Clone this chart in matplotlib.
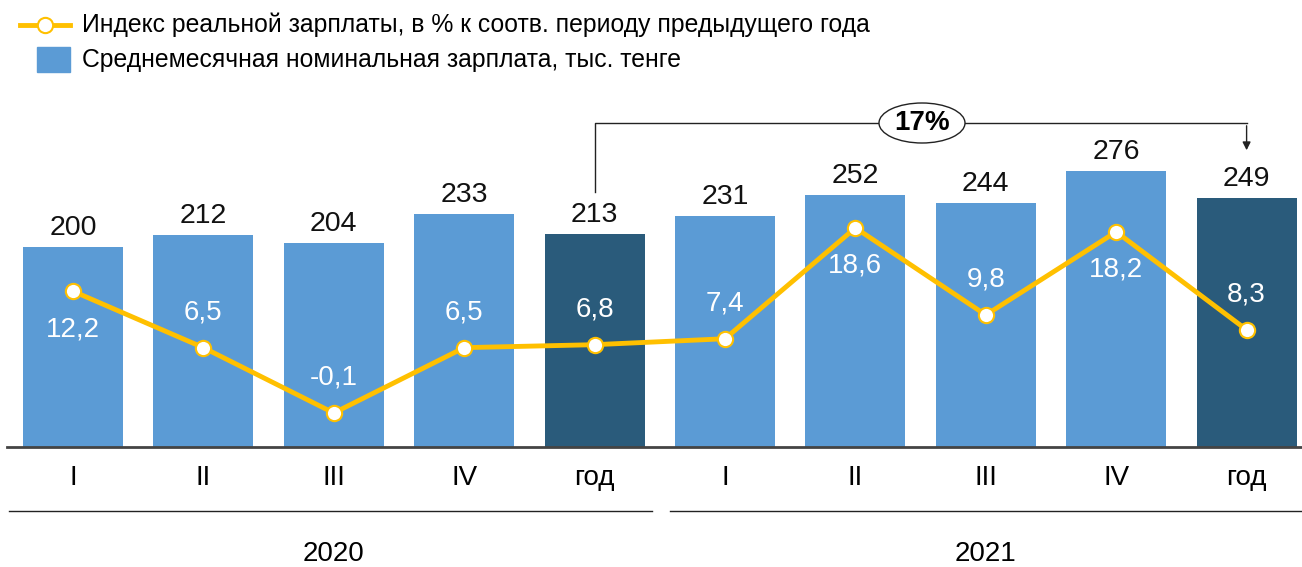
import matplotlib
matplotlib.use("Agg")
import matplotlib.pyplot as plt
from matplotlib.patches import Ellipse
from matplotlib.lines import Line2D

plt.rcParams['font.family'] = ['Liberation Sans', 'DejaVu Sans']

categories = ["I", "II", "III", "IV", "год", "I", "II", "III", "IV", "год"]
years = ["2020", "2021"]
wages = [200, 212, 204, 233, 213, 231, 252, 244, 276, 249]
real_index = [12.2, 6.5, -0.1, 6.5, 6.8, 7.4, 18.6, 9.8, 18.2, 8.3]
index_label_pos = ["below", "above", "above", "above", "above", "above", "below", "above", "below", "above"]
growth_label = "17%"
legend_line = "Индекс реальной зарплаты, в % к соотв. периоду предыдущего года"
legend_bar = "Среднемесячная номинальная зарплата, тыс. тенге"

W, H = 1302, 567
fig = plt.figure(figsize=(W / 100, H / 100), dpi=100)

# axes in pixel layout
x0_px, x1_px = 7, 1302
ytop_px, ybase_px = 90, 447
ax = fig.add_axes([x0_px / W, (H - ybase_px) / H, (x1_px - x0_px) / W, (ybase_px - ytop_px) / H])
step = 130.4
c0 = 73
ax.set_xlim((x0_px - c0) / step, (x1_px - c0) / step)
ax.set_ylim(0, ybase_px - ytop_px)

light = "#5B9BD5"
dark = "#2A5B7B"
colors = [dark if c == "год" else light for c in categories]
xs = list(range(len(categories)))
ax.bar(xs, wages, width=100 / step, color=colors, zorder=2)
for x, v in zip(xs, wages):
    ax.text(x, v + 6, str(v), ha="center", va="bottom", fontsize=20.5, color="#111111")

for s in ["top", "right", "left"]:
    ax.spines[s].set_visible(False)
ax.spines["bottom"].set_color("#444444")
ax.spines["bottom"].set_linewidth(2)
ax.set_yticks([])
ax.set_xticks(xs)
ax.set_xticklabels(categories, fontsize=20)
ax.tick_params(axis="x", length=0, pad=13)

# secondary axis for index
ax2 = ax.twinx()
ppu = 9.9
zero_px = 412
ax2.set_ylim((zero_px - ybase_px) / ppu, (zero_px - ytop_px) / ppu)
ax2.axis("off")
ax2.plot(xs, real_index, color="#FFC000", lw=3.5, zorder=3,
         marker="o", markersize=11, markerfacecolor="white", markeredgecolor="#FFC000", markeredgewidth=1.5)
for x, v, p in zip(xs, real_index, index_label_pos):
    lbl = f"{v:.1f}".replace(".", ",")
    dy = -38 if p == "below" else 35
    ax2.annotate(lbl, (x, v), xytext=(0, dy), textcoords="offset pixels",
                 ha="center", va="center", fontsize=20, color="white", zorder=4)

# 17% bracket (data coords of bar axis)
ytop_bracket = ybase_px - 123
ax.plot([4, 4, 9], [wages[4] + 42, ytop_bracket, ytop_bracket], color="#222222", lw=1, clip_on=False, zorder=5)
ax.annotate("", xy=(9, wages[9] + 45), xytext=(9, ytop_bracket),
            arrowprops=dict(arrowstyle="-|>", color="#222222", lw=1, mutation_scale=12), annotation_clip=False)
mid = (922 - c0) / step
ax.add_patch(Ellipse((mid, ytop_bracket), width=86 / step, height=40, facecolor="white",
                     edgecolor="#222222", lw=1, zorder=6, clip_on=False))
ax.text(mid, ytop_bracket, growth_label, ha="center", va="center", fontsize=20, fontweight="bold", zorder=7)

# year group lines and labels
ly = 1 - 511 / H
fig.add_artist(Line2D([9 / W, 652 / W], [ly, ly], color="#222222", lw=1))
fig.add_artist(Line2D([670 / W, 1302 / W], [ly, ly], color="#222222", lw=1))
fig.text(((c0 + 2 * step)) / W, 1 - 554 / H, years[0], ha="center", va="center", fontsize=20)
fig.text(((c0 + 7 * step)) / W, 1 - 554 / H, years[1], ha="center", va="center", fontsize=20)

# legend
ly1 = 1 - 25 / H
ly2 = 1 - 60 / H
fig.add_artist(Line2D([20 / W, 70 / W], [ly1, ly1], color="#FFC000", lw=3.5))
fig.add_artist(Line2D([45 / W], [ly1], marker="o", markersize=11, markerfacecolor="white",
                      markeredgecolor="#FFC000", markeredgewidth=1.5, lw=0))
fig.add_artist(plt.Rectangle((37 / W, 1 - 72 / H), 33 / W, 25 / H, color=light))
fig.text(82 / W, ly1, legend_line, ha="left", va="center", fontsize=17.8)
fig.text(82 / W, ly2, legend_bar, ha="left", va="center", fontsize=17.8)

fig.savefig("out.png", dpi=100)
